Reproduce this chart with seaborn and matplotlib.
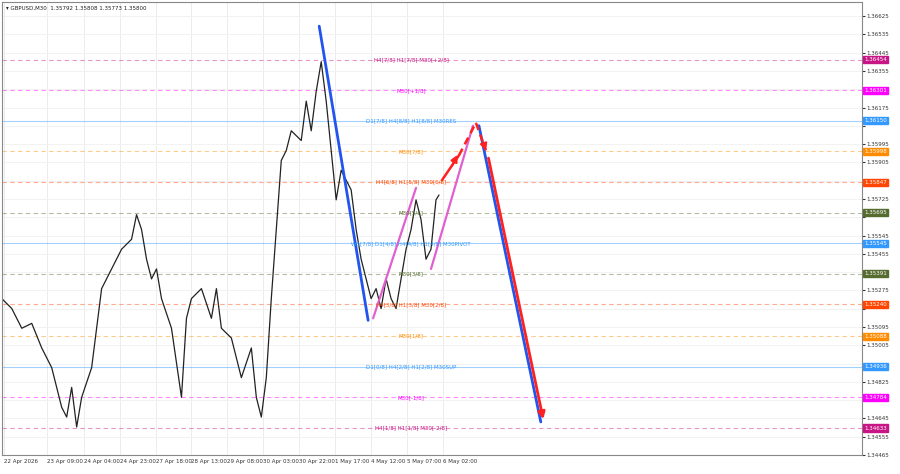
import matplotlib
matplotlib.use("Agg")
import matplotlib.pyplot as plt
import seaborn as sns
import pandas as pd

sns.set_style("white")
plt.rcParams['font.family'] = ['DejaVu Sans']

# price path (bar index, close)
bar_x = [0,10,20,30,40,50,60,65,70,75,80,90,100,110,120,130,135,140,145,150,155,160,170,180,185,190,200,210,215,220,230,240,250,255,260,265,270,275,280,285,290,300,305,310,315,320,325,330,335,340,345,350,355,360,365,370,375,380,385,390,395,400,405,410,415,420,425,430,435,438]
close = [1.35235,1.35186,1.35089,1.35113,1.34992,1.34895,1.34700,1.34652,1.34798,1.34603,1.34749,1.34895,1.35284,1.35381,1.35478,1.35527,1.35648,1.35575,1.35429,1.35332,1.35381,1.35235,1.35089,1.34749,1.35138,1.35235,1.35284,1.35138,1.35284,1.35089,1.35041,1.34846,1.34992,1.34749,1.34652,1.34846,1.35235,1.35575,1.35915,1.35964,1.36061,1.36013,1.36207,1.36061,1.36255,1.36401,1.36207,1.35964,1.35721,1.35867,1.35818,1.35770,1.35575,1.35429,1.35332,1.35235,1.35284,1.35186,1.35332,1.35235,1.35186,1.35332,1.35478,1.35575,1.35721,1.35624,1.35429,1.35478,1.35721,1.35745]

level_price = [1.36411,1.36260,1.36110,1.35959,1.35808,1.35658,1.35507,1.35357,1.35206,1.35050,1.34900,1.34749,1.34598]
level_text = ["H4[7/8] H1[7/8] M30[+2/8]","M30[+1/8]","D1[7/8] H4[8/8] H1[8/8] M30RES","M30[7/8]",
              "H4[6/8] H1[5/8] M30[6/8]","M30[5/8]","W1[7/8] D1[4/8] H4[4/8] H1[4/8] M30PIVOT","M30[3/8]",
              "H4[3/8] H1[3/8] M30[2/8]","M30[1/8]","D1[0/8] H4[2/8] H1[2/8] M30SUP","M30[-1/8]","H4[1/8] H1[1/8] M30[-2/8]"]
level_color = ["#c71585","#ff00ff","#3399ff","#ff8c00","#ff4500","#556b2f","#3399ff","#556b2f","#ff4500","#ff8c00","#3399ff","#ff00ff","#c71585"]
level_value = ["1.36454","1.36301","1.36150","1.35998","1.35847","1.35695","1.35545","1.35391","1.35240","1.35088","1.34936","1.34784","1.34633"]

xtick_pos = [2,45,82,118,154,190,226,262,298,334,370,406,442]
xtick_lab = ["22 Apr 2026","23 Apr 09:00","24 Apr 04:00","24 Apr 23:00","27 Apr 18:00","28 Apr 13:00",
             "29 Apr 08:00","30 Apr 03:00","30 Apr 22:00","1 May 17:00","4 May 12:00","5 May 07:00","6 May 02:00"]
ytick_vals = [1.36625,1.36535,1.36445,1.36355,1.36265,1.36175,1.36085,1.35995,1.35905,1.35815,1.35725,1.35635,1.35545,
              1.35455,1.35365,1.35275,1.35185,1.35095,1.35005,1.34915,1.34825,1.34735,1.34645,1.34555,1.34465]

blue_lines = [(318,1.36576,367,1.35128),(478,1.36086,540,1.34628)]
magenta_lines = [(372,1.35138,415,1.35780),(430,1.35381,472,1.36086)]

fig = plt.figure(figsize=(9,4.74), dpi=100)
ax = fig.add_axes([0.002, 0.04, 0.956, 0.955])
ax.set_xlim(0, 862)
ax.set_ylim(1.34482, 1.36693)

for xp in xtick_pos:
    ax.axvline(xp, color="#ececec", lw=0.7, zorder=0)
for yv in ytick_vals:
    ax.axhline(yv, color="#f2f2f2", lw=0.7, zorder=0)

df = pd.DataFrame({"x": bar_x, "p": close})
sns.lineplot(data=df, x="x", y="p", color="#222222", lw=0.9, ax=ax)

for p, t, c, v in zip(level_price, level_text, level_color, level_value):
    ls = "-" if c == "#3399ff" else (0, (4, 3))
    ax.axhline(p, color=c, lw=0.8, ls=ls, alpha=0.45, zorder=1)
    ax.text(410, p, t, color=c, fontsize=4, ha="center", va="center", zorder=3)
    ax.text(1.002, p, v, transform=ax.get_yaxis_transform(), color="white", fontsize=4, va="center",
            bbox=dict(boxstyle="square,pad=0.2", fc=c, ec=c), clip_on=False)

for x0,y0,x1,y1 in blue_lines:
    ax.plot([x0,x1],[y0,y1], color="#2255ee", lw=2)
for x0,y0,x1,y1 in magenta_lines:
    ax.plot([x0,x1],[y0,y1], color="#e060d0", lw=1.6)

ax.plot([441,458],[1.35818,1.35940], color="#ff2020", lw=1.8)
ax.plot([458,475],[1.35940,1.36100], color="#ff2020", lw=1.8, ls=(0,(3,2)))
ax.annotate("", xy=(458,1.35955), xytext=(450,1.35880), arrowprops=dict(arrowstyle="-|>", color="#ff2020", lw=1.5))
ax.plot([475,485],[1.36100,1.35964], color="#ff2020", lw=1.8, ls=(0,(3,2)))
ax.annotate("", xy=(486,1.35950), xytext=(482,1.36010), arrowprops=dict(arrowstyle="-|>", color="#ff2020", lw=1.5))
ax.annotate("", xy=(543,1.34628), xytext=(487,1.35940), arrowprops=dict(arrowstyle="-|>", color="#ff2020", lw=2))

ax.set_xticks(xtick_pos)
ax.set_xticklabels(xtick_lab, fontsize=4, ha="left")
ax.yaxis.tick_right()
ax.set_yticks(ytick_vals)
ylabs = [("" if min(abs(v - p) for p in level_price) < 0.00028 else f"{v:.5f}") for v in ytick_vals]
ax.set_yticklabels(ylabs, fontsize=4)
ax.tick_params(length=2, pad=1, colors="#333333")
ax.set_xlabel(""); ax.set_ylabel("")
for s in ax.spines.values():
    s.set_color("#888888"); s.set_linewidth(0.8)
ax.text(0.005, 0.993, "▾ GBPUSD,M30  1.35792 1.35808 1.35773 1.35800", transform=ax.transAxes,
        fontsize=4, va="top", color="#222222")
fig.savefig("out.png", dpi=100)
